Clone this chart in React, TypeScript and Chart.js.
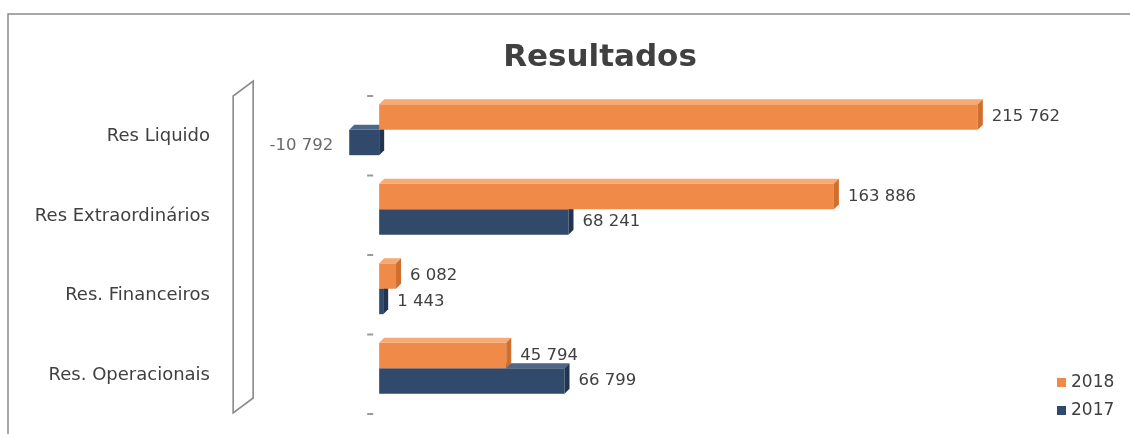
import React, { useEffect, useRef } from "react";
import { Chart, registerables } from "chart.js";

Chart.register(...registerables);

const chartTitle = "Resultados";
const categories = ["Res Liquido", "Res Extraordinários", "Res. Financeiros", "Res. Operacionais"];
const seriesNames = ["2018", "2017"];
const values2018 = [215762, 163886, 6082, 45794];
const values2017 = [-10792, 68241, 1443, 66799];
const xMin = -54481;
const xMax = 270606;

const FONT = "'DejaVu Sans', Verdana, sans-serif";
const ORANGE = "#F08A48";
const ORANGE_TOP = "#F6AA74";
const ORANGE_SIDE = "#D06E2E";
const NAVY = "#31496A";
const NAVY_TOP = "#4E6786";
const NAVY_SIDE = "#213550";
const TEXT = "#404040";

const fmt = (v: number) => String(v).replace(/\B(?=(\d{3})+(?!\d))/g, " ");

const decor = {
  id: "decor",
  beforeDraw(chart: any) {
    const ctx = chart.ctx;
    const yScale = chart.scales.y;
    const zero = chart.scales.x.getPixelForValue(0);
    ctx.save();
    // frame
    ctx.strokeStyle = "#8c8c8c";
    ctx.lineWidth = 1.5;
    ctx.beginPath();
    ctx.moveTo(8, chart.height);
    ctx.lineTo(8, 14);
    ctx.lineTo(chart.width, 14);
    ctx.stroke();
    // axis wall
    const t = yScale.getPixelForValue(-0.5) + 6;
    const b = yScale.getPixelForValue(categories.length - 0.5) + 6;
    const wx = zero - 146;
    ctx.strokeStyle = "#8a8a8a";
    ctx.lineWidth = 1.6;
    ctx.beginPath();
    ctx.moveTo(wx, b - 1);
    ctx.lineTo(wx, t);
    ctx.lineTo(wx + 20, t - 15);
    ctx.lineTo(wx + 20, b - 16);
    ctx.closePath();
    ctx.stroke();
    // tick dashes
    ctx.fillStyle = "#9a9a9a";
    for (let i = 0; i <= categories.length; i++) {
      const y = yScale.getPixelForValue(i - 0.5) + 6;
      ctx.fillRect(zero - 12, y - 1, 6, 2);
    }
    ctx.restore();
  },
  afterDatasetDraw(chart: any, args: any) {
    const ctx = chart.ctx;
    const meta = chart.getDatasetMeta(args.index);
    const top = args.index === 0 ? ORANGE_TOP : NAVY_TOP;
    const side = args.index === 0 ? ORANGE_SIDE : NAVY_SIDE;
    const d = 5;
    ctx.save();
    meta.data.forEach((bar: any) => {
      const x1 = Math.min(bar.x, bar.base);
      const x2 = Math.max(bar.x, bar.base);
      const yt = bar.y - bar.height / 2;
      const yb = bar.y + bar.height / 2;
      ctx.fillStyle = top;
      ctx.beginPath();
      ctx.moveTo(x1, yt);
      ctx.lineTo(x1 + d, yt - d);
      ctx.lineTo(x2 + d, yt - d);
      ctx.lineTo(x2, yt);
      ctx.closePath();
      ctx.fill();
      ctx.fillStyle = side;
      ctx.beginPath();
      ctx.moveTo(x2, yt);
      ctx.lineTo(x2 + d, yt - d);
      ctx.lineTo(x2 + d, yb - d);
      ctx.lineTo(x2, yb);
      ctx.closePath();
      ctx.fill();
    });
    ctx.restore();
  },
  afterDatasetsDraw(chart: any) {
    const ctx = chart.ctx;
    ctx.save();
    ctx.font = `16.5px ${FONT}`;
    ctx.textBaseline = "middle";
    chart.data.datasets.forEach((ds: any, di: number) => {
      const meta = chart.getDatasetMeta(di);
      meta.data.forEach((bar: any, i: number) => {
        const v = ds.data[i] as number;
        if (v >= 0) {
          ctx.fillStyle = TEXT;
          ctx.textAlign = "left";
          ctx.fillText(fmt(v), bar.x + 14, bar.y);
        } else {
          ctx.fillStyle = "#6a6a6a";
          ctx.textAlign = "right";
          ctx.fillText(fmt(v), bar.x - 16, bar.y + 3);
        }
      });
    });
    ctx.restore();
  },
  afterDraw(chart: any) {
    const ctx = chart.ctx;
    const colors = [ORANGE, NAVY];
    ctx.save();
    ctx.font = `17px ${FONT}`;
    ctx.textBaseline = "middle";
    ctx.textAlign = "left";
    seriesNames.forEach((name, i) => {
      const sy = chart.height - 56 + i * 28;
      const sx = chart.width - 73;
      ctx.fillStyle = colors[i];
      ctx.fillRect(sx, sy, 9, 9);
      ctx.fillStyle = TEXT;
      ctx.fillText(name, sx + 14, sy + 4.5);
    });
    ctx.restore();
  },
};

export default function App() {
  const ref = useRef<HTMLCanvasElement | null>(null);
  useEffect(() => {
    if (!ref.current) return;
    Chart.defaults.font.family = FONT;
    const chart = new Chart(ref.current, {
      type: "bar",
      data: {
        labels: categories,
        datasets: [
          { label: seriesNames[0], data: values2018, backgroundColor: ORANGE, categoryPercentage: 0.64, barPercentage: 1 } as any,
          { label: seriesNames[1], data: values2017, backgroundColor: NAVY, categoryPercentage: 0.64, barPercentage: 1 } as any,
        ],
      },
      options: {
        indexAxis: "y",
        animation: false,
        responsive: false,
        layout: { padding: { left: 0, right: -70, top: 0, bottom: 26 } },
        plugins: {
          legend: { display: false },
          tooltip: { enabled: false },
          title: {
            display: true,
            text: chartTitle,
            color: TEXT,
            font: { family: FONT, size: 31, weight: "bold" },
            padding: { top: 39, bottom: 13.8 },
          },
        },
        scales: {
          x: { display: false, min: xMin, max: xMax },
          y: {
            grid: { display: false },
            border: { display: false },
            ticks: { padding: 10, labelOffset: 7, color: TEXT, font: { family: FONT, size: 18 } },
            afterFit: (s: any) => {
              s.width = 228;
            },
          },
        },
      } as any,
      plugins: [decor],
    });
    return () => chart.destroy();
  }, []);
  return (
    <div style={{ position: "absolute", left: 0, top: 0, width: 1130, height: 434, background: "#fff" }}>
      <canvas ref={ref} width={1130} height={434} style={{ width: 1130, height: 434, display: "block" }} />
    </div>
  );
}
